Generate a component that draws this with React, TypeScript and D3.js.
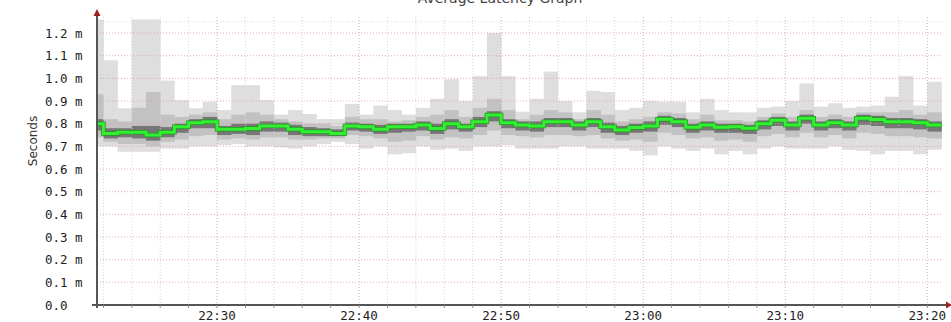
import React from 'react';
import * as d3 from 'd3';

// one bin per minute, starting 22:21 (first bin is clipped by the left edge)
const binTimes = [
  '22:21', '22:22', '22:23', '22:24', '22:25', '22:26', '22:27', '22:28', '22:29', '22:30',
  '22:31', '22:32', '22:33', '22:34', '22:35', '22:36', '22:37', '22:38', '22:39', '22:40',
  '22:41', '22:42', '22:43', '22:44', '22:45', '22:46', '22:47', '22:48', '22:49', '22:50',
  '22:51', '22:52', '22:53', '22:54', '22:55', '22:56', '22:57', '22:58', '22:59', '23:00',
  '23:01', '23:02', '23:03', '23:04', '23:05', '23:06', '23:07', '23:08', '23:09', '23:10',
  '23:11', '23:12', '23:13', '23:14', '23:15', '23:16', '23:17', '23:18', '23:19', '23:20',
];

// median latency (ms)
const median = [
  0.80, 0.757, 0.762, 0.762, 0.750, 0.762, 0.787, 0.804, 0.809, 0.775,
  0.775, 0.779, 0.79, 0.79, 0.775, 0.765, 0.765, 0.757, 0.79, 0.787,
  0.775, 0.787, 0.787, 0.794, 0.779, 0.80, 0.787, 0.809, 0.838, 0.804,
  0.794, 0.79, 0.809, 0.809, 0.794, 0.809, 0.787, 0.772, 0.783, 0.79,
  0.82, 0.809, 0.784, 0.794, 0.784, 0.787, 0.78, 0.80, 0.815, 0.794,
  0.824, 0.794, 0.804, 0.794, 0.824, 0.818, 0.809, 0.809, 0.804, 0.794,
];

// smoke: outer (min/max), middle and inner bands
const maxV = [
  1.26, 1.08, 0.868, 1.26, 1.26, 0.99, 0.904, 0.868, 0.897, 0.86,
  0.97, 0.97, 0.904, 0.84, 0.86, 0.843, 0.82, 0.82, 0.887, 0.84,
  0.88, 0.86, 0.84, 0.87, 0.91, 0.996, 0.90, 1.01, 1.20, 1.01,
  0.853, 0.91, 1.03, 0.90, 0.85, 0.945, 0.94, 0.86, 0.87, 0.90,
  0.897, 0.897, 0.85, 0.91, 0.86, 0.85, 0.85, 0.87, 0.875, 0.90,
  0.978, 0.875, 0.89, 0.87, 0.875, 0.88, 0.919, 1.01, 0.88, 0.985,
];
const minV = [
  0.70, 0.70, 0.676, 0.676, 0.676, 0.69, 0.69, 0.70, 0.70, 0.705,
  0.71, 0.70, 0.70, 0.695, 0.69, 0.70, 0.71, 0.72, 0.71, 0.69,
  0.70, 0.665, 0.67, 0.70, 0.685, 0.69, 0.68, 0.70, 0.70, 0.705,
  0.69, 0.69, 0.69, 0.70, 0.70, 0.69, 0.69, 0.69, 0.68, 0.66,
  0.70, 0.69, 0.68, 0.69, 0.665, 0.68, 0.665, 0.69, 0.70, 0.69,
  0.69, 0.69, 0.70, 0.685, 0.68, 0.665, 0.68, 0.68, 0.665, 0.685,
];
const hi2 = [
  0.93, 0.82, 0.81, 0.87, 0.94, 0.84, 0.83, 0.84, 0.85, 0.82,
  0.84, 0.85, 0.84, 0.82, 0.81, 0.80, 0.80, 0.79, 0.83, 0.82,
  0.82, 0.81, 0.815, 0.83, 0.84, 0.86, 0.83, 0.87, 0.91, 0.86,
  0.82, 0.84, 0.86, 0.85, 0.82, 0.86, 0.84, 0.81, 0.82, 0.83,
  0.85, 0.845, 0.82, 0.84, 0.815, 0.815, 0.81, 0.83, 0.845, 0.83,
  0.86, 0.83, 0.84, 0.83, 0.85, 0.85, 0.85, 0.86, 0.84, 0.85,
];
const lo2 = [
  0.74, 0.72, 0.71, 0.71, 0.70, 0.72, 0.73, 0.745, 0.75, 0.73,
  0.735, 0.73, 0.74, 0.74, 0.73, 0.73, 0.735, 0.735, 0.75, 0.745,
  0.735, 0.72, 0.725, 0.745, 0.73, 0.74, 0.735, 0.75, 0.77, 0.75,
  0.745, 0.74, 0.75, 0.75, 0.745, 0.75, 0.735, 0.725, 0.73, 0.72,
  0.76, 0.75, 0.735, 0.74, 0.725, 0.73, 0.72, 0.745, 0.755, 0.74,
  0.76, 0.74, 0.75, 0.735, 0.76, 0.755, 0.745, 0.745, 0.74, 0.735,
];
const hi3 = [
  0.82, 0.78, 0.78, 0.79, 0.79, 0.785, 0.80, 0.82, 0.83, 0.79,
  0.80, 0.80, 0.81, 0.805, 0.795, 0.785, 0.78, 0.775, 0.805, 0.80,
  0.795, 0.80, 0.80, 0.81, 0.80, 0.82, 0.80, 0.83, 0.855, 0.82,
  0.81, 0.81, 0.825, 0.825, 0.81, 0.825, 0.805, 0.79, 0.80, 0.81,
  0.835, 0.825, 0.80, 0.81, 0.80, 0.80, 0.795, 0.815, 0.83, 0.81,
  0.84, 0.81, 0.82, 0.81, 0.84, 0.835, 0.825, 0.825, 0.82, 0.81,
];
const lo3 = [
  0.77, 0.735, 0.74, 0.735, 0.725, 0.74, 0.76, 0.78, 0.78, 0.75,
  0.755, 0.75, 0.765, 0.765, 0.75, 0.745, 0.745, 0.745, 0.77, 0.765,
  0.755, 0.76, 0.765, 0.77, 0.755, 0.775, 0.765, 0.785, 0.81, 0.78,
  0.77, 0.765, 0.785, 0.785, 0.77, 0.785, 0.76, 0.75, 0.76, 0.765,
  0.795, 0.785, 0.76, 0.77, 0.76, 0.76, 0.755, 0.775, 0.79, 0.77,
  0.80, 0.77, 0.78, 0.77, 0.795, 0.79, 0.78, 0.78, 0.775, 0.765,
];

const yTicks = [0, 0.1, 0.2, 0.3, 0.4, 0.5, 0.6, 0.7, 0.8, 0.9, 1.0, 1.1, 1.2];
const xLabels = ['22:30', '22:40', '22:50', '23:00', '23:10', '23:20'];

const W = 951;
const H = 322;
const left = 97;
const right = 941.5;
const top = 19;
const bottom = 305;

const t = (hm: string, s = 0) => {
  const [h, m] = hm.split(':').map(Number);
  return new Date(2024, 0, 1, h, m, s);
};

const App: React.FC = () => {
  const x = d3.scaleTime().domain([t('22:21', 33), t('23:21')]).range([left, right]);
  const y = d3.scaleLinear().domain([0, 1.262]).range([bottom, top]);
  const mono = "'DejaVu Sans Mono', monospace";

  const bins = binTimes.map((s, i) => {
    const t0 = t(s);
    const t1 = d3.timeMinute.offset(t0, 1);
    const x0 = Math.max(left, x(t0));
    return { i, x0, x1: x(t1) };
  });

  const band = (lo: number[], hi: number[], fill: string) =>
    bins.map(b => {
      const yt = y(Math.min(hi[b.i], 1.262));
      return (
        <rect key={`${fill}-${b.i}`} x={b.x0} width={b.x1 - b.x0 + 0.3}
          y={yt} height={y(lo[b.i]) - yt} fill={fill} />
      );
    });

  const pts: [number, number][] = bins.map(b => [b.x0, y(median[b.i])]);
  pts.push([right, y(median[median.length - 1])]);
  const medLine = d3.line().curve(d3.curveStepAfter)(pts) || '';

  const minorX = d3.timeMinute.every(2)!.range(t('22:22'), t('23:22'));

  return (
    <svg width={W} height={H} style={{ position: 'absolute', left: 0, top: 0, background: '#fff' }}
      fontFamily="'DejaVu Sans', sans-serif">
      <text x={500} y={3} textAnchor="middle" fontSize={14} fill="#444">Average Latency Graph</text>

      {/* smoke */}
      {band(minV, maxV, '#dedede')}
      {band(lo2, hi2, '#c2c2c2')}
      {band(lo3, hi3, '#767676')}

      {/* grid */}
      {minorX.map((d, i) => {
        const major = d.getMinutes() % 10 === 0;
        return (
          <line key={`gx${i}`} x1={x(d)} x2={x(d)} y1={top - 2} y2={bottom}
            stroke={major ? '#e09a9a' : '#cfcfcf'} strokeDasharray="1,2" strokeWidth={1} opacity={0.85} />
        );
      })}
      {yTicks.map(v => (
        <line key={`gy${v}`} x1={left} x2={right} y1={y(v)} y2={y(v)}
          stroke="#e09a9a" strokeDasharray="1,2" strokeWidth={1} opacity={0.8} />
      ))}
      <line x1={left} x2={right} y1={y(1.25)} y2={y(1.25)} stroke="#d8d8d8" strokeDasharray="1,2" />

      {/* median */}
      <path d={medLine} fill="none" stroke="#1f9a1f" strokeWidth={4.5} />
      <path d={medLine} fill="none" stroke="#33ee33" strokeWidth={3} />

      {/* axes */}
      <line x1={92} x2={947} y1={bottom} y2={bottom} stroke="#555" strokeWidth={2} />
      {minorX.map((d, i) => (
        <line key={`tk${i}`} x1={x(d)} x2={x(d)} y1={bottom} y2={bottom + 3} stroke="#888" />
      ))}
      <line x1={left} x2={left} y1={bottom + 3} y2={15} stroke="#555" strokeWidth={2} />
      <path d={`M${left - 3.5},16 L${left + 3.5},16 L${left},9 Z`} fill="#a02020" />
      <path d={`M946,${bottom - 3.5} L946,${bottom + 3.5} L952,${bottom} Z`} fill="#a02020" />

      {yTicks.map(v => (
        <text key={`yl${v}`} x={45} y={y(v) + 4.5} fontFamily={mono} fontSize={12.5} fill="#222">
          {v === 0 ? '0.0' : `${v.toFixed(1)} m`}
        </text>
      ))}
      {xLabels.map(s => (
        <text key={s} x={x(t(s))} y={320} textAnchor="middle" fontFamily={mono} fontSize={12.5} fill="#222">
          {s}
        </text>
      ))}
      <text transform="translate(37,141) rotate(-90)" textAnchor="middle" fontSize={12} fill="#333">
        Seconds
      </text>
    </svg>
  );
};

export default App;
